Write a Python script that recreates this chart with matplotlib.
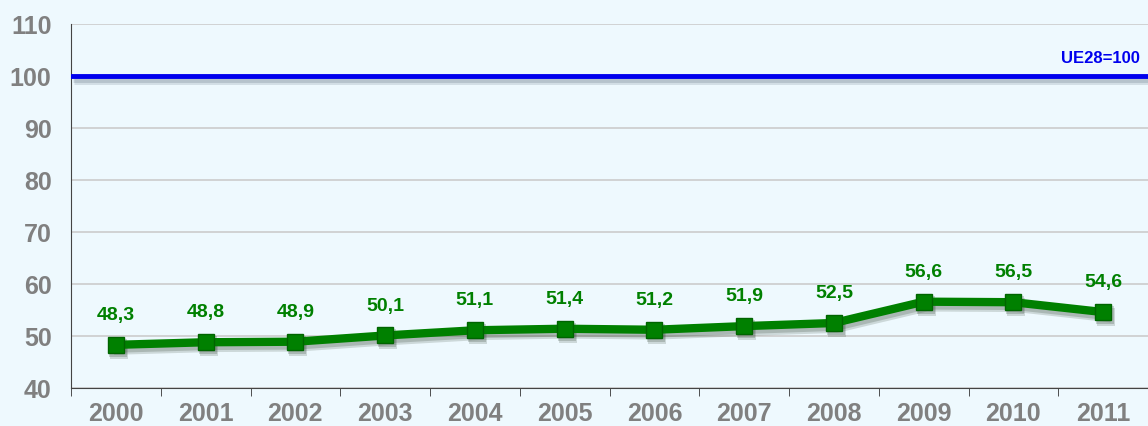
import numpy as np
import matplotlib.pyplot as plt
import matplotlib.transforms as mtransforms

years = ['2000', '2001', '2002', '2003', '2004', '2005', '2006', '2007', '2008', '2009', '2010', '2011']
values = [48.3, 48.8, 48.9, 50.1, 51.1, 51.4, 51.2, 51.9, 52.5, 56.6, 56.5, 54.6]
ref_value = 100
ref_label = 'UE28=100'

plt.rcParams['font.family'] = ['Liberation Sans', 'DejaVu Sans']
plt.rcParams['font.weight'] = 'bold'

bg = '#eef9fe'
green = '#008000'
fig = plt.figure(figsize=(11.48, 4.26), dpi=100, facecolor=bg)
ax = fig.add_axes([71 / 1148, 38 / 426, 1 - 71 / 1148, 364 / 426])
ax.set_facecolor(bg)

x = np.arange(len(years))

# drop shadows (offset copies)
sh = mtransforms.offset_copy(ax.transData, fig=fig, x=3, y=-5, units='dots')
sh2 = mtransforms.offset_copy(ax.transData, fig=fig, x=2, y=-3, units='dots')
for t, a in [(sh, 0.18), (sh2, 0.22)]:
    ax.plot([-0.5, 12], [ref_value, ref_value], color='#556677', lw=5, alpha=a, transform=t,
            zorder=2, solid_capstyle='butt')
    ax.plot(x, values, color='#334433', lw=7, marker='s', ms=13, mew=0, alpha=a, transform=t, zorder=2)

ax.axhline(ref_value, color='#0000ee', lw=3.5, zorder=3)
ax.plot(x, values, color=green, lw=6, marker='s', ms=12, mfc=green, mec='#006400', mew=1, zorder=4)

for xi, v in zip(x, values):
    ax.annotate(f'{v:.1f}'.replace('.', ','), (xi, v), xytext=(0, 15), textcoords='offset points',
                ha='center', va='bottom', color=green, fontsize=14, fontweight='bold')

ax.text(0.992, 102, ref_label, transform=ax.get_yaxis_transform(), ha='right', va='bottom',
        color='#0000ee', fontsize=12, fontweight='bold')

ax.set_ylim(40, 110)
ax.set_yticks(range(40, 111, 10))
ax.set_xlim(-0.5, (1148 - 71) / 90.9 - 0.5)
ax.set_xticks(x)
ax.set_xticklabels(years)
ax.set_xticks(np.arange(-0.5, len(years), 1), minor=True)
ax.tick_params(axis='x', which='major', length=0, pad=10, labelsize=18, labelcolor='#808080')
ax.tick_params(axis='x', which='minor', length=6, color='#333333', direction='out')
ax.tick_params(axis='y', length=0, pad=14, labelsize=18, labelcolor='#808080')
for lab in ax.get_xticklabels() + ax.get_yticklabels():
    lab.set_fontweight('bold')

ax.grid(axis='y', color='#cccccc', lw=1.2)
ax.set_axisbelow(True)
for s in ['top', 'right']:
    ax.spines[s].set_visible(False)
ax.spines['left'].set_color('#444444')
ax.spines['bottom'].set_color('#444444')

fig.savefig('out.png', dpi=100, facecolor=bg)
